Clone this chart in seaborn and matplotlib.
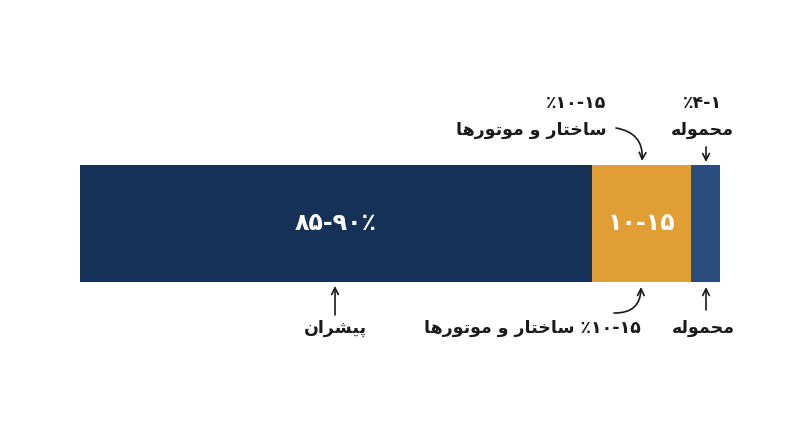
import numpy as np
import pandas as pd
import matplotlib
matplotlib.use("Agg")
import matplotlib.pyplot as plt
import seaborn as sns

# ---------------- data ----------------
segments = ["پیشران", "ساختار و موتورها", "محموله"]
shares = [80.0, 15.5, 4.5]
colors = ["#163157", "#E09E35", "#2B4C7E"]
bar_labels = ["۸۵-۹۰٪", "۱۰-۱۵", ""]
top_ranges = ["", "٪۱۰-۱۵", "٪۴-۱"]
bottom_ranges = ["", "٪۱۰-۱۵", ""]

# ------------- minimal Arabic-script shaping (visual order) -------------
FORMS = {
    "ا": ("\uFE8D", "\uFE8E", None, None),
    "پ": ("\uFB56", "\uFB57", "\uFB58", "\uFB59"),
    "ی": ("\uFBFC", "\uFBFD", "\uFBFE", "\uFBFF"),
    "ش": ("\uFEB5", "\uFEB6", "\uFEB7", "\uFEB8"),
    "ر": ("\uFEAD", "\uFEAE", None, None),
    "ن": ("\uFEE5", "\uFEE6", "\uFEE7", "\uFEE8"),
    "س": ("\uFEB1", "\uFEB2", "\uFEB3", "\uFEB4"),
    "خ": ("\uFEA5", "\uFEA6", "\uFEA7", "\uFEA8"),
    "ت": ("\uFE95", "\uFE96", "\uFE97", "\uFE98"),
    "و": ("\uFEED", "\uFEEE", None, None),
    "م": ("\uFEE1", "\uFEE2", "\uFEE3", "\uFEE4"),
    "ه": ("\uFEE9", "\uFEEA", "\uFEEB", "\uFEEC"),
    "ح": ("\uFEA1", "\uFEA2", "\uFEA3", "\uFEA4"),
    "ل": ("\uFEDD", "\uFEDE", "\uFEDF", "\uFEE0"),
}


def dual(c):
    return c in FORMS and FORMS[c][2] is not None


def rtl(s):
    out = []
    for i, c in enumerate(s):
        if c not in FORMS:
            out.append(c)
            continue
        prev = s[i - 1] if i > 0 else ""
        nxt = s[i + 1] if i + 1 < len(s) else ""
        jp = dual(prev)
        jn = dual(c) and nxt in FORMS
        iso, fin, ini, med = FORMS[c]
        if jp and jn:
            out.append(med)
        elif jp:
            out.append(fin)
        elif jn:
            out.append(ini)
        else:
            out.append(iso)
    return "".join(reversed(out))


sns.set_theme(style="white")
plt.rcParams["font.family"] = ["DejaVu Sans"]

W, H = 800, 447
fig = plt.figure(figsize=(W / 100, H / 100), dpi=100)
fig.patch.set_facecolor("white")
ax = fig.add_axes([0.1, 0.0, 0.8, 1.0])

cum = np.cumsum(shares)
df = pd.DataFrame({"segment": segments, "end": cum, "row": ["r"] * len(segments)})
for i in reversed(range(len(segments))):
    sns.barplot(data=df.iloc[[i]], x="end", y="row", color=colors[i], width=1.0,
                saturation=1, orient="h", linewidth=0, ax=ax)

ax.set_xlim(0, 100)
ax.set_ylim(1.910, -1.910)
ax.axis("off")

# labels inside bar
starts = cum - np.array(shares)
for i, lab in enumerate(bar_labels):
    if lab:
        ax.text(starts[i] + shares[i] / 2, 0.0, lab, ha="center", va="center",
                color="white", fontsize=17, fontweight="bold")


def P(x, y):
    return (x / W, 1 - y / H)


txt = dict(color="#1a1a1a", fontsize=12.5, fontweight="bold")

# top labels
fig.text(*P(606, 103), top_ranges[1], ha="right", va="center", **txt)
fig.text(*P(606, 130), rtl(segments[1]), ha="right", va="center", **txt)
fig.text(*P(702, 103), top_ranges[2], ha="center", va="center", **txt)
fig.text(*P(702, 130), rtl(segments[2]), ha="center", va="center", **txt)

# bottom labels
fig.text(*P(335, 328), rtl(segments[0]), ha="center", va="center", **txt)
fig.text(*P(641, 328), rtl(segments[1]) + " " + bottom_ranges[1], ha="right", va="center", **txt)
fig.text(*P(703, 328), rtl(segments[2]), ha="center", va="center", **txt)

arrow = dict(arrowstyle="->", color="#1a1a1a", lw=1.2, shrinkA=0, shrinkB=0,
             mutation_scale=12)


def arr(a, b, rad=0.0):
    ax.annotate("", xy=P(*b), xytext=P(*a), xycoords="figure fraction",
                textcoords="figure fraction",
                arrowprops=dict(arrow, connectionstyle=f"arc3,rad={rad}"))


arr((616, 128), (642, 161), -0.45)
arr((706, 147), (706, 162))
arr((335, 315), (335, 286))
arr((614, 313), (641, 287), 0.5)
arr((706, 310), (706, 287))

fig.savefig("out.png", dpi=100, facecolor="white")
